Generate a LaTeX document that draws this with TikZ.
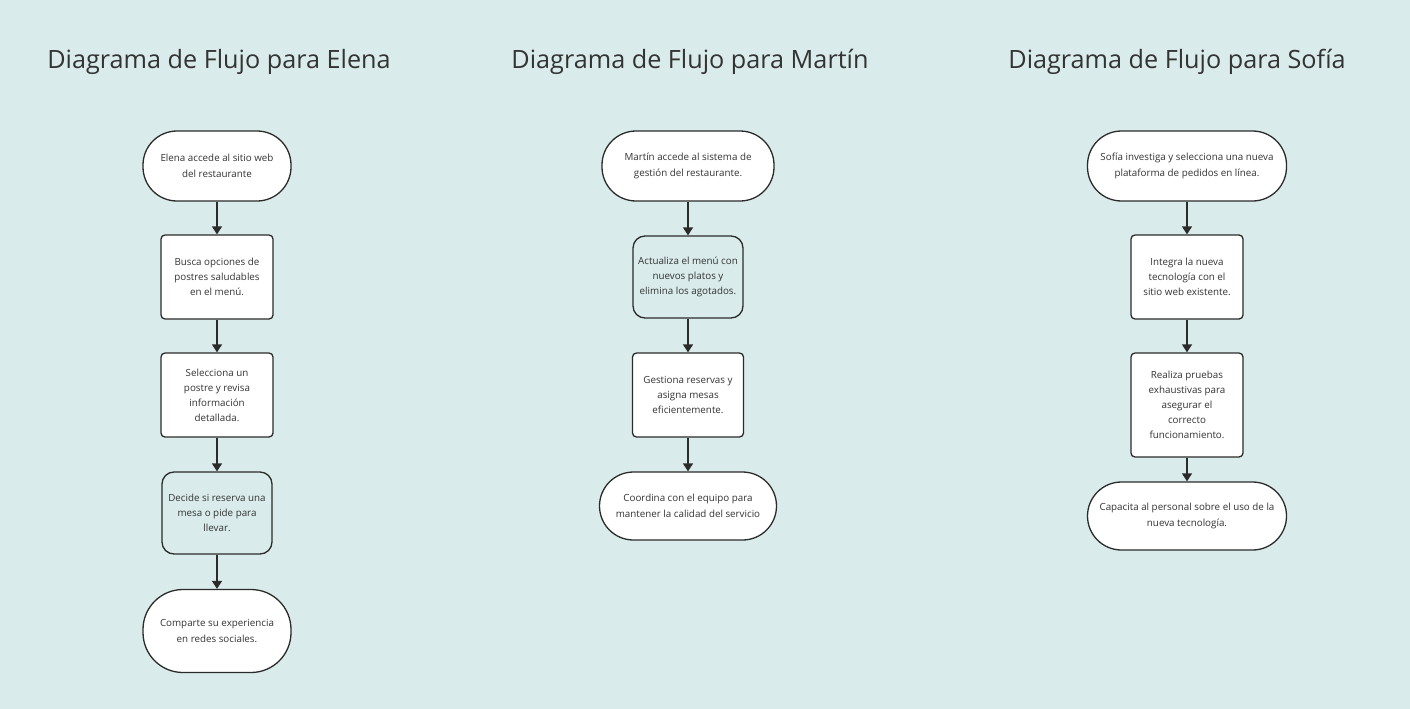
\documentclass[tikz,border=0pt]{standalone}
\usepackage{fontspec}
\setmainfont{Open Sans}
\usetikzlibrary{arrows.meta}
\definecolor{bgc}{HTML}{D9EBEA}
\definecolor{ink}{HTML}{2B2B2B}
\definecolor{txt}{HTML}{333333}
\tikzset{
  term/.style={draw=ink, line width=1.3pt, fill=white, rounded corners=34pt, minimum height=#1, align=center, font=\fontsize{9.8}{15.5}\selectfont, text=txt, inner sep=0pt},
  term/.default=70pt,
  proc/.style={draw=ink, line width=1.3pt, fill=white, rounded corners=4pt, minimum width=112pt, minimum height=#1, align=center, font=\fontsize{9.8}{15}\selectfont, text=txt, inner sep=0pt},
  proc/.default=84pt,
  procb/.style={proc=#1, fill=bgc, rounded corners=12pt, minimum width=110pt},
  procb/.default=82pt,
  ttl/.style={font=\fontsize{25.2}{30}\selectfont, text=txt},
  arr/.style={draw=ink, line width=1.3pt, -{Triangle[width=10pt,length=8pt]}}
}
\begin{document}
\begin{tikzpicture}[x=1pt,y=-1pt]
\fill[bgc] (0,0) rectangle (1410,709);
\useasboundingbox (0,0) rectangle (1410,709);
% titles
\node[ttl] (t1) at (219,62) {Diagrama de Flujo para Elena};
\node[ttl] (t2) at (690,62) {Diagrama de Flujo para Martín};
\node[ttl] (t3) at (1177,62) {Diagrama de Flujo para Sofía};
% Elena
\node[term, minimum width=148pt] (e1) at (217,166) {Elena accede al sitio web\\del restaurante};
\node[proc] (e2) at (217,277) {Busca opciones de\\postres saludables\\en el menú.};
\node[proc] (e3) at (217,395) {Selecciona un\\postre y revisa\\información\\detallada.};
\node[procb] (e4) at (217,513) {Decide si reserva una\\mesa o pide para\\llevar.};
\node[term=83pt, minimum width=148pt, rounded corners=40pt] (e5) at (217,631) {Comparte su experiencia\\en redes sociales.};
\draw[arr] (e1) -- (e2);
\draw[arr] (e2) -- (e3);
\draw[arr] (e3) -- (e4);
\draw[arr] (e4) -- (e5);
% Martin
\node[term, minimum width=172pt] (m1) at (688,166) {Martín accede al sistema de\\gestión del restaurante.};
\node[procb] (m2) at (688,277) {Actualiza el menú con\\nuevos platos y\\elimina los agotados.};
\node[proc, minimum width=111pt] (m3) at (688,395) {Gestiona reservas y\\asigna mesas\\eficientemente.};
\node[term=68pt, minimum width=177pt] (m4) at (688,506) {Coordina con el equipo para\\mantener la calidad del servicio};
\draw[arr] (m1) -- (m2);
\draw[arr] (m2) -- (m3);
\draw[arr] (m3) -- (m4);
% Sofia
\node[term, minimum width=199pt] (s1) at (1187,166) {Sofía investiga y selecciona una nueva\\plataforma de pedidos en línea.};
\node[proc] (s2) at (1187,277) {Integra la nueva\\tecnología con el\\sitio web existente.};
\node[proc=104pt] (s3) at (1187,405) {Realiza pruebas\\exhaustivas para\\asegurar el\\correcto\\funcionamiento.};
\node[term=68pt, minimum width=199pt] (s4) at (1187,516) {Capacita al personal sobre el uso de la\\nueva tecnología.};
\draw[arr] (s1) -- (s2);
\draw[arr] (s2) -- (s3);
\draw[arr] (s3) -- (s4);
\end{tikzpicture}
\end{document}
